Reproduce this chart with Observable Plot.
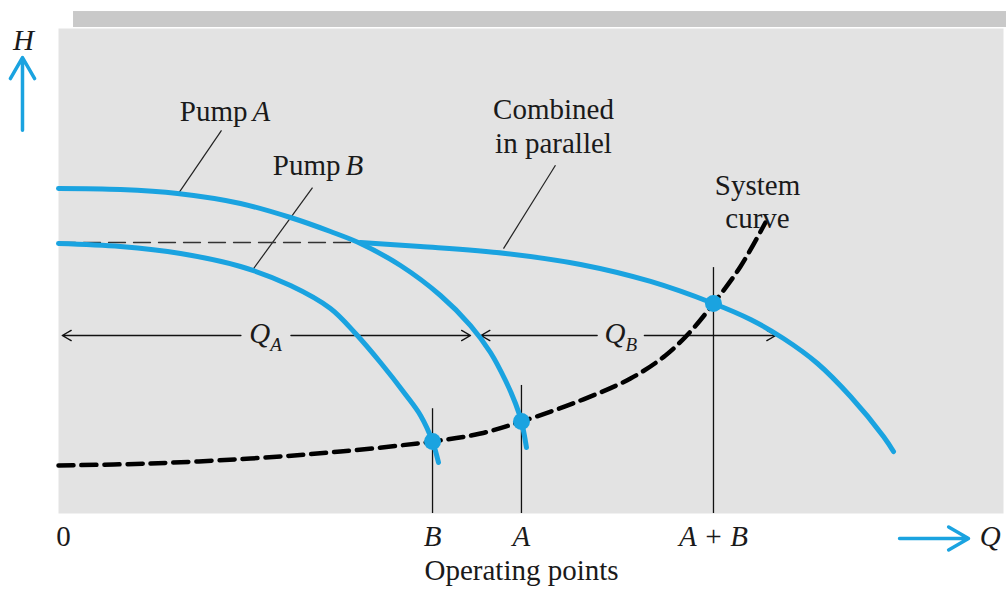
<!DOCTYPE html>
<html>
<head>
<meta charset="utf-8">
<script src="https://cdn.jsdelivr.net/npm/d3@7"></script>
<script src="https://cdn.jsdelivr.net/npm/@observablehq/plot@0.6"></script>
<style>
  html, body { margin: 0; padding: 0; background: #fff; }
  svg { display: block; }
</style>
</head>
<body>
<script>
// Q (flow) and H (head) in arbitrary units, Q: 0..100, H: 0..100
const pumpA = [[0,67.01],[6.56,66.8],[12.59,65.98],[19.26,63.92],[24.55,61.03],[28.78,58.14],[31.96,55.67],[36.19,51.13],[40.42,44.95],[43.6,38.76],[45.71,33.2],[47.3,27.42],[48.36,22.68],[48.99,18.97],[49.52,13.61]];
const pumpB = [[0,55.67],[6.56,55.05],[12.91,53.61],[19.26,50.93],[24.55,47.01],[28.78,42.27],[31.43,37.11],[34.07,31.13],[36.72,24.54],[38.31,20.21],[39.58,14.85],[40.21,10.52]];
const combinedDashed = [[0,55.88],[31.96,55.88]];
const combined = [[31.96,55.88],[38.31,55.05],[47.3,53.61],[55.24,51.34],[62.65,47.84],[69.31,43.3],[73.23,40.0],[76.72,36.08],[80.32,30.93],[83.81,24.12],[87.3,15.88],[88.36,12.78]];
const systemCurve = [[0,9.9],[9.74,10.31],[20.32,11.34],[29.84,12.78],[39.58,14.85],[44.66,16.49],[48.99,18.97],[55.24,23.3],[60.53,27.84],[64.23,32.58],[66.88,37.53],[69.31,43.3],[72.17,50.93],[74.81,60.0]];
const operatingPoints = [
  {name: "B", q: 39.58, h: 14.85, top: 21.6},
  {name: "A", q: 48.99, h: 18.97, top: 26.4},
  {name: "A + B", q: 69.31, h: 43.3, top: 50.7}
];
const flowQA = {h: 36.7, from: 0.4, to: 43.6, gapL: 19.3, gapR: 24.6, labelQ: 21.9};
const flowQB = {h: 36.7, from: 44.7, to: 75.9, gapL: 57.0, gapR: 62.0, labelQ: 59.5};
const leaders = [
  {q1: 12.7, h1: 66.0, q2: 17.25, h2: 79.0},
  {q1: 20.53, h1: 50.2, q2: 26.88, h2: 67.2},
  {q1: 47.09, h1: 54.6, q2: 52.59, h2: 71.8}
];
const labelsEnd = [
  {text: "Pump", q: 20.0, h: 81.0},
  {text: "Pump", q: 29.84, h: 69.7}
];
const labelsMiddle = [
  {text: "Combined", q: 52.38, h: 81.4},
  {text: "in parallel", q: 52.38, h: 74.4},
  {text: "System", q: 73.97, h: 65.6},
  {text: "curve", q: 73.97, h: 58.8},
  {text: "0", q: 0.53, h: -6.6},
  {text: "Operating points", q: 49.0, h: -13.8}
];
const italicStart = [
  {text: "A", q: 20.53, h: 81.0},
  {text: "B", q: 30.37, h: 69.7}
];
const italicMiddle = [
  {text: "H", q: -3.7, h: 95.5},
  {text: "Q", q: 98.6, h: -6.6}
];
const flowSymbols = [
  {text: "Q", q: flowQA.labelQ + 0.5, h: 35.1},
  {text: "Q", q: flowQB.labelQ + 0.5, h: 35.1}
];
const subscripts = [
  {text: "A", q: flowQA.labelQ + 0.5, h: 33.6},
  {text: "B", q: flowQB.labelQ + 0.5, h: 33.6}
];
const axisArrows = [
  {q1: -3.81, h1: 79.0, q2: -3.81, h2: 94.0},
  {q1: 89.0, h1: -5.15, q2: 96.3, h2: -5.15}
];
const shadowBand = [{q1: 1.59, q2: 100.4, h1: 100.2, h2: 103.5}];

const blue = "#1aa3e0";
const ink = "#1a1a1a";
const serif = "Liberation Serif, Times New Roman, serif";
const fs = 29;
const toObj = arr => arr.map(([q, h]) => ({q, h}));

const flowArrows = [flowQA, flowQB].flatMap(f => [
  {q1: f.gapL, q2: f.from, h: f.h},
  {q1: f.gapR, q2: f.to, h: f.h}
]);

const chart = Plot.plot({
  width: 1006,
  height: 597,
  marginLeft: 58,
  marginRight: 3,
  marginTop: 28,
  marginBottom: 84,
  x: {domain: [0, 100], axis: null},
  y: {domain: [0, 100], axis: null},
  style: {background: "#ffffff", overflow: "visible"},
  marks: [
    Plot.rect(shadowBand, {x1: "q1", x2: "q2", y1: "h1", y2: "h2", fill: "#c9c9c9"}),
    Plot.frame({fill: "#e3e3e3", stroke: null}),
    Plot.ruleX(operatingPoints, {x: "q", y1: 0, y2: "top", stroke: "#111", strokeWidth: 1.3}),
    Plot.link(leaders, {x1: "q1", y1: "h1", x2: "q2", y2: "h2", stroke: "#222", strokeWidth: 1.2}),
    Plot.arrow(flowArrows, {x1: "q1", x2: "q2", y1: "h", y2: "h", stroke: "#111", strokeWidth: 1.4, headLength: 11, bend: 0}),
    Plot.line(toObj(combinedDashed), {x: "q", y: "h", stroke: "#333", strokeWidth: 1.3, strokeDasharray: "17 8"}),
    Plot.line(toObj(systemCurve), {x: "q", y: "h", stroke: "#000", strokeWidth: 4.5, strokeDasharray: "15 8", curve: "catmull-rom"}),
    Plot.line(toObj(pumpB), {x: "q", y: "h", stroke: blue, strokeWidth: 5, curve: "catmull-rom"}),
    Plot.line(toObj(pumpA), {x: "q", y: "h", stroke: blue, strokeWidth: 5, curve: "catmull-rom"}),
    Plot.line(toObj(combined), {x: "q", y: "h", stroke: blue, strokeWidth: 5, curve: "catmull-rom"}),
    Plot.dot(operatingPoints, {x: "q", y: "h", r: 8.5, fill: blue, stroke: null}),
    Plot.arrow(axisArrows, {x1: "q1", y1: "h1", x2: "q2", y2: "h2", stroke: blue, strokeWidth: 3.5, headLength: 11, bend: 0}),
    Plot.text(labelsEnd, {x: "q", y: "h", text: "text", textAnchor: "end", lineAnchor: "bottom", fontFamily: serif, fontSize: fs, fill: ink}),
    Plot.text(labelsMiddle, {x: "q", y: "h", text: "text", textAnchor: "middle", lineAnchor: "bottom", fontFamily: serif, fontSize: fs, fill: ink}),
    Plot.text(italicStart, {x: "q", y: "h", text: "text", textAnchor: "start", lineAnchor: "bottom", fontFamily: serif, fontStyle: "italic", fontSize: fs, fill: ink}),
    Plot.text(italicMiddle, {x: "q", y: "h", text: "text", textAnchor: "middle", lineAnchor: "bottom", fontFamily: serif, fontStyle: "italic", fontSize: fs, fill: ink}),
    Plot.text(flowSymbols, {x: "q", y: "h", text: "text", textAnchor: "end", lineAnchor: "bottom", fontFamily: serif, fontStyle: "italic", fontSize: fs, fill: ink}),
    Plot.text(subscripts, {x: "q", y: "h", text: "text", textAnchor: "start", lineAnchor: "bottom", fontFamily: serif, fontStyle: "italic", fontSize: 19, fill: ink}),
    Plot.text(operatingPoints, {x: "q", y: -6.6, text: "name", textAnchor: "middle", lineAnchor: "bottom", fontFamily: serif, fontStyle: "italic", fontSize: fs, fill: ink})
  ]
});
document.body.appendChild(chart);
</script>
</body>
</html>
